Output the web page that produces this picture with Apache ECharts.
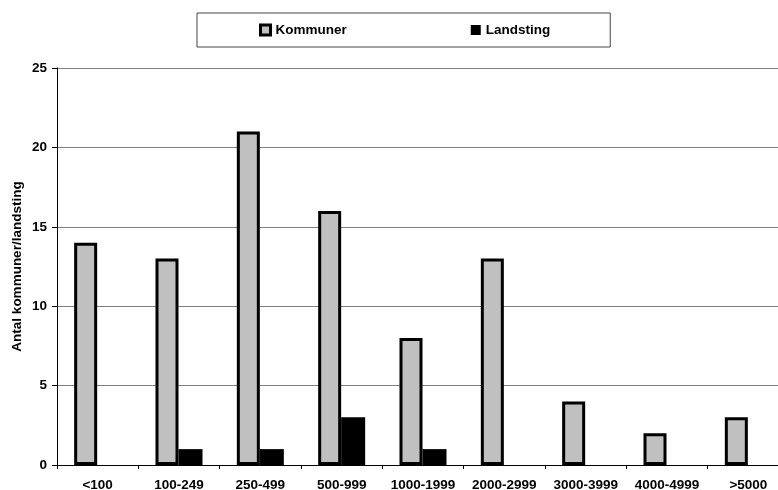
<!DOCTYPE html>
<html>
<head>
<meta charset="utf-8">
<script src="https://cdn.jsdelivr.net/npm/echarts@6/dist/echarts.min.js"></script>
<style>
  html, body { margin: 0; padding: 0; background: #fff; overflow: hidden; }
  #chart { width: 778px; height: 490px; }
</style>
</head>
<body>
<div id="chart"></div>
<script>
// Size classes (number of employees)
var categories = ['<100', '100-249', '250-499', '500-999', '1000-1999', '2000-2999', '3000-3999', '4000-4999', '>5000'];
// Number of municipalities per size class
var kommuner = [14, 13, 21, 16, 8, 13, 4, 2, 3];
// Number of county councils per size class
var landsting = [0, 1, 1, 3, 1, 0, 0, 0, 0];
// Y axis range
var yMin = 0, yMax = 25, yStep = 5;

var FONT = 'Liberation Sans, Arial, sans-serif';
var FS = 13.5;
var chart = echarts.init(document.getElementById('chart'), null, { renderer: 'canvas' });

chart.setOption({
  animation: false,
  backgroundColor: '#ffffff',
  textStyle: { fontFamily: FONT },
  legend: {
    top: 13,
    left: 197,
    padding: [10, 60, 10, 62],
    itemGap: 124,
    itemWidth: 10,
    itemHeight: 10,
    icon: 'rect',
    borderColor: '#444',
    borderWidth: 1,
    backgroundColor: '#fff',
    textStyle: { fontFamily: FONT, fontSize: FS, fontWeight: 'bold', color: '#000' },
    data: [
      { name: 'Kommuner', itemStyle: { color: '#c0c0c0', borderColor: '#000', borderWidth: 3 } },
      { name: 'Landsting' }
    ]
  },
  // the plot runs past the right edge of the canvas, so the last column is cut off
  grid: { left: 57, top: 68, width: 732, height: 397, containLabel: false, outerBoundsMode: 'none' },
  xAxis: {
    type: 'category',
    data: categories,
    axisLine: { lineStyle: { color: '#000', width: 1 } },
    axisTick: { show: true, length: 4, lineStyle: { color: '#000' } },
    axisLabel: { fontFamily: FONT, fontSize: FS, fontWeight: 'bold', color: '#000', margin: 13, interval: 0 }
  },
  yAxis: {
    type: 'value',
    min: yMin,
    max: yMax,
    interval: yStep,
    name: 'Antal kommuner/landsting',
    nameLocation: 'middle',
    nameGap: 32.5,
    nameMoveOverlap: false,
    nameTextStyle: { fontFamily: FONT, fontSize: FS, fontWeight: 'bold', color: '#000' },
    axisLine: { show: true, lineStyle: { color: '#000', width: 1 } },
    axisTick: { show: true, length: 5, lineStyle: { color: '#000' } },
    axisLabel: { fontFamily: FONT, fontSize: FS, fontWeight: 'bold', color: '#000', margin: 10 },
    splitLine: { show: true, lineStyle: { color: '#808080', width: 1 } }
  },
  series: [
    {
      name: 'Kommuner',
      type: 'bar',
      data: kommuner,
      barWidth: 23,
      barGap: '0%',
      itemStyle: { color: '#c0c0c0', borderColor: '#000', borderWidth: 3 }
    },
    {
      name: 'Landsting',
      type: 'bar',
      data: landsting,
      barWidth: 24,
      barGap: '0%',
      itemStyle: { color: '#000', borderWidth: 0 }
    }
  ]
});
</script>
</body>
</html>
